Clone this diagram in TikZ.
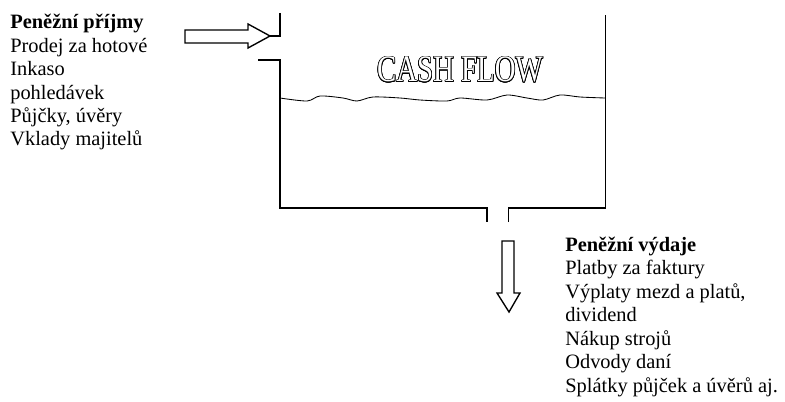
\documentclass[tikz,border=0pt]{standalone}
\usepackage{fontspec}
\setmainfont{Liberation Serif}
\usepackage{contour}
\contourlength{0.55pt}
\begin{document}
\begin{tikzpicture}[x=0.588pt,y=-0.588pt,
  wall/.style={line width=0.6pt, black},
  blockarrow/.style={line width=0.8pt, black, fill=white, line join=miter},
  listtext/.style={align=left, anchor=base west, inner sep=0pt, font=\fontsize{12}{13.76}\selectfont},
  title/.style={inner sep=0pt, anchor=base, font=\fontsize{22}{24}\selectfont, xscale=0.77}]
\useasboundingbox (0,0) rectangle (785,402);
% tank
\draw[wall] (280,13) -- (280,36) -- (270,36);
\draw[wall] (258,60) -- (280,60) -- (280,208) -- (487,208) -- (487,222);
\draw[wall] (508,222) -- (508,208) -- (605,208) -- (605,15);
% liquid surface
\draw[wall, line width=0.5pt] plot[smooth, tension=0.5] coordinates {(280,98) (307,101) (320,96) (343,98) (357,101) (373,97) (400,98) (420,100) (447,101) (460,98) (487,100) (507,95) (527,98) (543,100) (560,95) (580,97) (605,98)};
% inflow arrow
\draw[blockarrow] (185,30) -- (248,30) -- (248,24) -- (270,36) -- (248,48) -- (248,43) -- (185,43) -- cycle;
% outflow arrow
\draw[blockarrow] (502,241) -- (514,241) -- (514,293) -- (520,293) -- (509,312) -- (497,293) -- (502,293) -- cycle;
% title
\node[title] (cf) at (460,82) {{\color{white}\contour{black}{CASH FLOW}}};
% texts (anchored at the baseline of the last line)
\node[listtext] (inc) at (10,146) {\textbf{Peněžní příjmy}\\Prodej za hotové\\Inkaso\\pohledávek\\Půjčky, úvěry\\Vklady majitelů};
\node[listtext] (out) at (565,392) {\textbf{Peněžní výdaje}\\Platby za faktury\\Výplaty mezd a platů,\\dividend\\Nákup strojů\\Odvody daní\\Splátky půjček a úvěrů aj.};
\end{tikzpicture}
\end{document}
